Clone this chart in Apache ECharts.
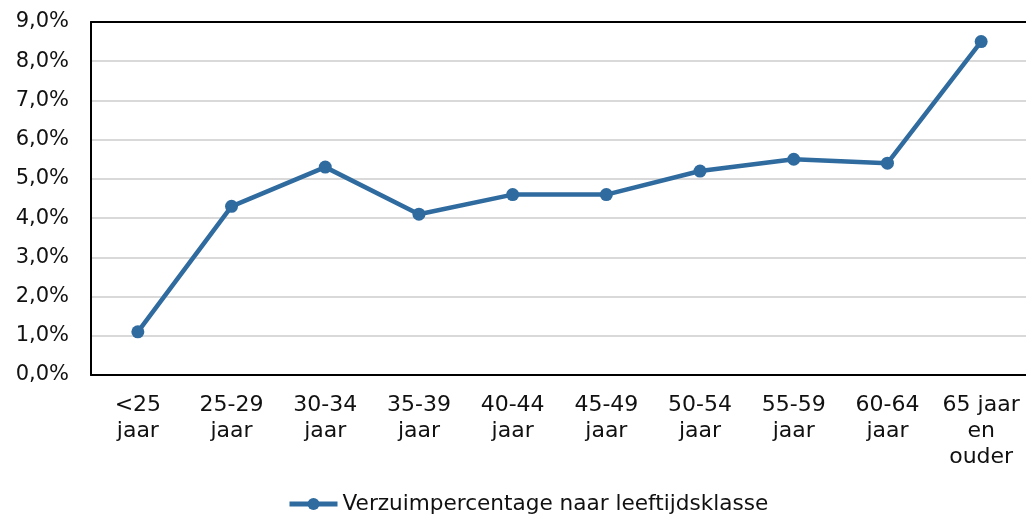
<!DOCTYPE html>
<html>
<head>
<meta charset="utf-8">
<script src="https://cdn.jsdelivr.net/npm/echarts@6/dist/echarts.min.js"></script>
<style>
  html, body { margin: 0; padding: 0; background: #fff; }
  #chart { width: 1026px; height: 515px; }
</style>
</head>
<body>
<div id="chart"></div>
<script>
// leeftijdsklassen en verzuimpercentages
const categories = ["<25\njaar", "25-29\njaar", "30-34\njaar", "35-39\njaar", "40-44\njaar",
  "45-49\njaar", "50-54\njaar", "55-59\njaar", "60-64\njaar", "65 jaar\nen\nouder"];
const verzuim = [1.1, 4.3, 5.3, 4.1, 4.6, 4.6, 5.2, 5.5, 5.4, 8.5];
const seriesName = "Verzuimpercentage naar leeftijdsklasse";

const FONT = "DejaVu Sans";
const chart = echarts.init(document.getElementById("chart"));

chart.setOption({
  animation: false,
  textStyle: { fontFamily: FONT },
  grid: { left: 91, top: 22, width: 937, height: 353, outerBoundsMode: "none" },
  legend: {
    bottom: -5, left: 282,
    itemWidth: 48, itemHeight: 15, itemGap: 5,
    lineStyle: { width: 5 },
    textStyle: { fontFamily: FONT, fontSize: 21.6, color: "#111" },
    data: [seriesName]
  },
  xAxis: [{
    type: "category",
    data: categories,
    axisLine: { lineStyle: { color: "#000", width: 2 } },
    axisTick: { show: false },
    axisLabel: {
      color: "#111", fontSize: 22, fontFamily: FONT,
      lineHeight: 26, margin: 17, interval: 0
    }
  }, {
    // bovenrand van het plotvlak
    type: "category",
    position: "top",
    data: categories,
    axisLine: { lineStyle: { color: "#000", width: 2 } },
    axisTick: { show: false },
    axisLabel: { show: false }
  }],
  yAxis: {
    type: "value",
    min: 0, max: 9, interval: 1,
    axisLine: { show: true, lineStyle: { color: "#000", width: 2 } },
    axisTick: { show: false },
    splitLine: { lineStyle: { color: "#d9d9d9", width: 2 } },
    axisLabel: {
      color: "#111", fontSize: 21, fontFamily: FONT, margin: 22,
      formatter: v => v.toFixed(1).replace(".", ",") + "%"
    }
  },
  series: [{
    name: seriesName,
    type: "line",
    data: verzuim,
    symbol: "circle",
    symbolSize: 13,
    lineStyle: { color: "#2f6b9f", width: 4.5 },
    itemStyle: { color: "#2f6b9f" }
  }]
});
</script>
</body>
</html>
